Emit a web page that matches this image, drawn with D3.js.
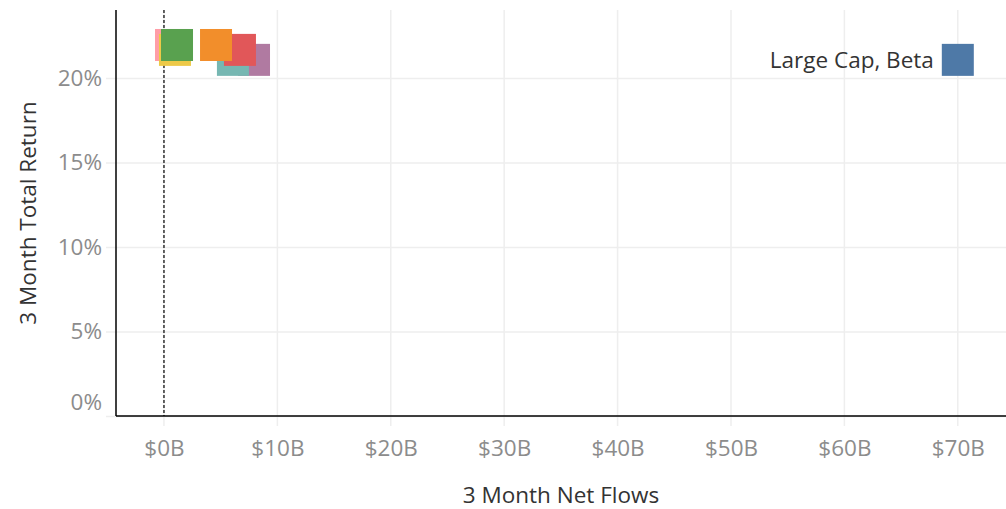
<!DOCTYPE html>
<html>
<head>
<meta charset="utf-8">
<script src="https://cdn.jsdelivr.net/npm/d3@7"></script>
<style>
  body { margin: 0; background: #fff; }
  svg { display: block; font-family: "Open Sans", sans-serif; }
</style>
</head>
<body>
<div id="visualization"></div>
<script>
// categories drawn back to front, so later ones sit on top
const categories = ["Small Cap, Growth", "Mid Cap, Value", "Small Cap, Value", "Large Cap, Value", "Mid Cap, Growth", "Large Cap, Growth", "Mid Cap, Blend", "Large Cap, Beta"];
const colors = ["#ff9da7", "#edc948", "#59a14f", "#b07aa1", "#76b7b2", "#e15759", "#f28e2b", "#4e79a7"];
// 3 month net flows in $B
const netFlows = [0.62, 0.97, 1.15, 7.94, 6.08, 6.70, 4.59, 70.0];
// 3 month total return in %
const totalReturn = [21.95, 21.66, 21.95, 21.07, 21.07, 21.66, 21.95, 21.07];
// only this one is labelled in the chart
const labelled = ["Large Cap, Beta"];

const xTicks = [0, 10, 20, 30, 40, 50, 60, 70];
const yTicks = [0, 5, 10, 15, 20];

const width = 1006, height = 509;
const margin = { top: 10, right: 0, bottom: 93, left: 116 };
const markSize = 32;

const svg = d3.select("#visualization")
  .append("svg")
    .attr("width", width)
    .attr("height", height);

const x = d3.scaleLinear()
  .domain([-4.23, 74.25])
  .range([margin.left, width - margin.right]);

const y = d3.scaleLinear()
  .domain([0, 24.02])
  .range([height - margin.bottom, margin.top]);

const plotBottom = height - margin.bottom;

// gridlines
svg.append("g")
  .selectAll("line")
  .data(yTicks)
  .join("line")
    .attr("x1", margin.left - 10)
    .attr("x2", width)
    .attr("y1", d => y(d) + 0.5)
    .attr("y2", d => y(d) + 0.5)
    .attr("stroke", "#eeeeee")
    .attr("stroke-width", 1.5);

svg.append("g")
  .selectAll("line")
  .data(xTicks)
  .join("line")
    .attr("x1", d => x(d))
    .attr("x2", d => x(d))
    .attr("y1", margin.top)
    .attr("y2", plotBottom + 10)
    .attr("stroke", "#eeeeee")
    .attr("stroke-width", 1.5);

// x axis labels
const xAxis = svg.append("g")
  .attr("transform", `translate(0, ${plotBottom})`)
  .call(d3.axisBottom(x).tickValues(xTicks).tickSize(0).tickPadding(24).tickFormat(d => `$${d}B`));
xAxis.select(".domain").remove();
xAxis.selectAll("text")
  .attr("fill", "#8c8c8c")
  .attr("font-size", 22.5)
  .attr("font-family", "Open Sans, sans-serif");

// y axis labels
const yAxis = svg.append("g")
  .attr("transform", `translate(${margin.left}, 0)`)
  .call(d3.axisLeft(y).tickValues(yTicks).tickSize(0).tickPadding(14).tickFormat(d => `${d}%`));
yAxis.select(".domain").remove();
yAxis.selectAll("text")
  .attr("fill", "#8c8c8c")
  .attr("font-size", 22.5)
  .attr("font-family", "Open Sans, sans-serif");
//0% label gets pushed up to stay inside the pane
yAxis.selectAll(".tick").filter(d => d === 0).select("text").attr("dy", "-0.3em");

// zero line
svg.append("line")
  .attr("x1", x(0)).attr("x2", x(0))
  .attr("y1", margin.top).attr("y2", plotBottom)
  .attr("stroke", "#000")
  .attr("stroke-width", 1.2)
  .attr("stroke-dasharray", "3,2");

// axis lines
svg.append("line")
  .attr("x1", margin.left).attr("x2", width)
  .attr("y1", plotBottom).attr("y2", plotBottom)
  .attr("stroke", "#000").attr("stroke-width", 1.5);
svg.append("line")
  .attr("x1", margin.left).attr("x2", margin.left)
  .attr("y1", margin.top).attr("y2", plotBottom)
  .attr("stroke", "#000").attr("stroke-width", 1.5);

// squares
const points = categories.map((c, i) => ({ name: c, color: colors[i], flow: netFlows[i], ret: totalReturn[i] }));

svg.append("g")
  .selectAll("rect")
  .data(points)
  .join("rect")
    .attr("x", d => x(d.flow) - markSize / 2)
    .attr("y", d => y(d.ret) - markSize / 2)
    .attr("width", markSize)
    .attr("height", markSize)
    .attr("fill", d => d.color);

// mark label
svg.append("g")
  .selectAll("text")
  .data(points.filter(d => labelled.includes(d.name)))
  .join("text")
    .attr("x", d => x(d.flow) - markSize / 2 - 8)
    .attr("y", d => y(d.ret))
    .attr("dy", "0.35em")
    .attr("text-anchor", "end")
    .attr("font-size", 22.5)
    .attr("fill", "#333")
    .text(d => d.name);

// axis titles
svg.append("text")
  .attr("x", (margin.left + width) / 2)
  .attr("y", 495)
  .attr("dy", "0.35em")
  .attr("text-anchor", "middle")
  .attr("font-size", 22.5)
  .attr("fill", "#333")
  .text("3 Month Net Flows");

svg.append("text")
  .attr("transform", `translate(28, ${(margin.top + plotBottom) / 2}) rotate(-90)`)
  .attr("dy", "0.35em")
  .attr("text-anchor", "middle")
  .attr("font-size", 22.5)
  .attr("fill", "#333")
  .text("3 Month Total Return");
</script>
</body>
</html>
